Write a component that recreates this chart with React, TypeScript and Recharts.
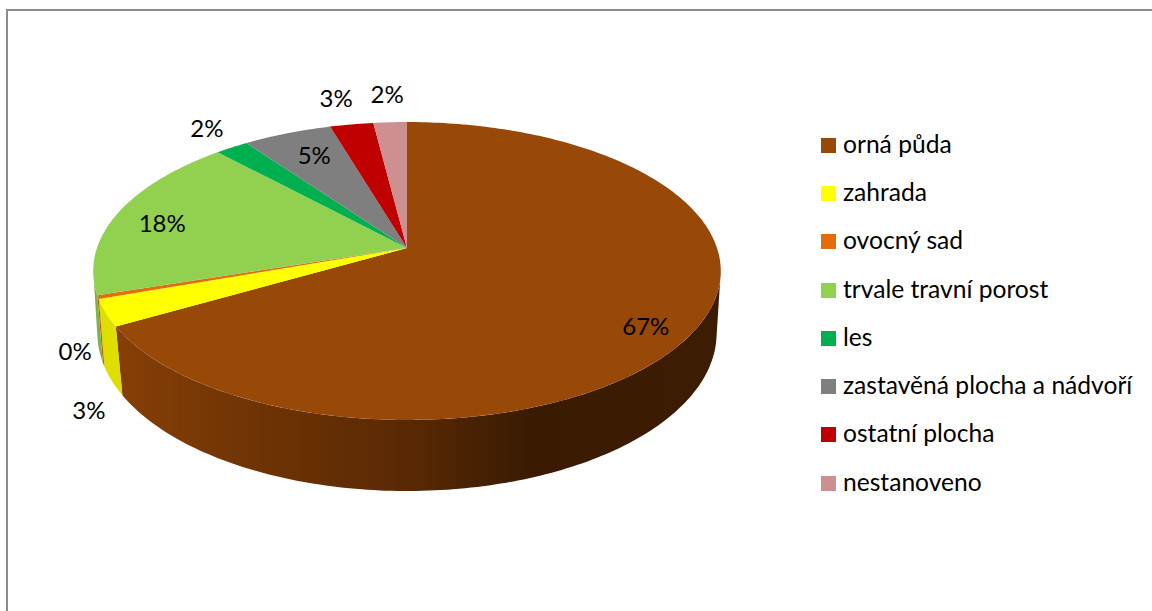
import React from 'react';
import { PieChart, Pie, Legend } from 'recharts';

const categories = [
  'orná půda',
  'zahrada',
  'ovocný sad',
  'trvale travní porost',
  'les',
  'zastavěná plocha a nádvoří',
  'ostatní plocha',
  'nestanoveno',
];
const shares = [66.7, 2.9, 0.4, 18.1, 2.0, 5.3, 2.6, 2.0];
const topColors = ['#984807', '#FFFF00', '#E46C0A', '#92D050', '#00B050', '#7F7F7F', '#C00000', '#CD8F8F'];
const wallColors = ['url(#wallBrown)', '#DEDE00', '#C45C08', '#7DB345', '#009848', '#6D6D6D', '#A50000', '#B07B7B'];
// label offset from the rim point at the middle of each slice
const labelNudges = [
  [-52, -1.5],
  [-17, 96.5],
  [-23, 53.5],
  [44, 9.5],
  [-25, -19.5],
  [27, 21.5],
  [-15.5, -26.5],
  [-3, -28.5],
];

const tableData = categories.map((name, i) => ({ name, value: shares[i], fill: topColors[i] }));

const FONT = 'Lato, sans-serif';
const RAD = Math.PI / 180;

// perspective of the top and bottom face of the disc
const TOP = { rx: 1, ry: 145.4 / 310, p: 0.1544, dy: 0 };
const BOTTOM = { rx: 307 / 310, ry: 155.3 / 310, p: 0.13, dy: 64.5 };
const WALL_FROM = -8.9;
const WALL_TO = -171.1;

const project = (face: typeof TOP, cx: number, cy: number, r: number, angle: number) => {
  const c = Math.cos(angle * RAD);
  const s = Math.sin(angle * RAD);
  const d = 1 + face.p * s;
  return [cx + (r * face.rx * c) / d, cy + face.dy - (r * face.ry * s) / d];
};

const arc = (face: typeof TOP, cx: number, cy: number, r: number, from: number, to: number) => {
  const n = Math.max(2, Math.ceil(Math.abs(from - to)));
  const pts: string[] = [];
  for (let i = 0; i <= n; i++) {
    const [x, y] = project(face, cx, cy, r, from + ((to - from) * i) / n);
    pts.push(`${x.toFixed(2)} ${y.toFixed(2)}`);
  }
  return pts;
};

const DiscSlice = (props: any) => {
  const { cx, cy, outerRadius, startAngle, endAngle, index, fill } = props;
  const hi = Math.min(startAngle, WALL_FROM);
  const lo = Math.max(endAngle, WALL_TO);
  const top = arc(TOP, cx, cy, outerRadius, startAngle, endAngle);
  return (
    <g>
      {hi > lo && (
        <path
          d={`M${[...arc(TOP, cx, cy, outerRadius, hi, lo), ...arc(BOTTOM, cx, cy, outerRadius, lo, hi)].join('L')}Z`}
          fill={wallColors[index]}
        />
      )}
      <path d={`M${cx} ${cy}L${top.join('L')}Z`} fill={fill} />
    </g>
  );
};

const sliceLabel = (props: any) => {
  const { cx, cy, outerRadius, midAngle, percent, index } = props;
  const [x, y] = project(TOP, cx, cy, outerRadius, midAngle);
  return (
    <text
      x={x + labelNudges[index][0]}
      y={y + labelNudges[index][1]}
      textAnchor="middle"
      dominantBaseline="central"
      fontFamily={FONT}
      fontSize={24}
      fill="#000"
    >
      {`${Math.round(percent * 100)}%`}
    </text>
  );
};

const LegendList = ({ payload }: any) => (
  <div>
    {(payload || []).map((item: any) => (
      <div key={item.value} style={{ height: 48.3, display: 'flex', alignItems: 'center', fontFamily: FONT, fontSize: 24.6, color: '#000', whiteSpace: 'nowrap' }}>
        <span style={{ width: 15, height: 15, background: item.color, marginRight: 7, flex: 'none' }} />
        <span style={{ position: 'relative', top: -2 }}>{item.value}</span>
      </div>
    ))}
  </div>
);

export default function App() {
  return (
    <div style={{ position: 'absolute', left: 0, top: 0, width: 1152, height: 611, overflow: 'hidden', background: '#fff' }}>
      <div style={{ position: 'absolute', left: 6, top: 9, width: 1146, height: 602, borderLeft: '2px solid #8C8C8C', borderTop: '2px solid #8C8C8C' }} />
      <div style={{ position: 'absolute', left: 0, top: 0 }}>
        <PieChart width={1152} height={611} margin={{ top: 0, right: 0, bottom: 0, left: 0 }}>
          <defs>
            <linearGradient id="wallBrown" gradientUnits="userSpaceOnUse" x1="116" y1="0" x2="721" y2="0">
              <stop offset="0" stopColor="#863F06" />
              <stop offset="0.2" stopColor="#723505" />
              <stop offset="0.5" stopColor="#572804" />
              <stop offset="0.68" stopColor="#3A1B02" />
              <stop offset="1" stopColor="#3C1D03" />
            </linearGradient>
          </defs>
          <Pie
            data={tableData}
            dataKey="value"
            nameKey="name"
            cx={407}
            cy={248}
            innerRadius={0}
            outerRadius={310}
            startAngle={90}
            endAngle={-270}
            stroke="none"
            shape={DiscSlice}
            label={sliceLabel}
            labelLine={false}
            isAnimationActive={false}
          />
          <Legend
            layout="vertical"
            itemSorter={null}
            content={<LegendList />}
            wrapperStyle={{ position: 'absolute', left: 821, top: 121, width: 325, height: 390 }}
          />
        </PieChart>
      </div>
    </div>
  );
}
